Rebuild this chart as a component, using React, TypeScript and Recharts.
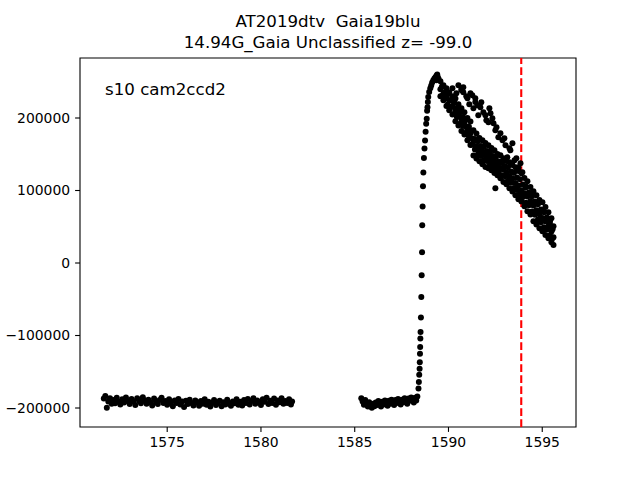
import React from "react";
import {
  ScatterChart,
  Scatter,
  XAxis,
  YAxis,
  ReferenceLine,
  ReferenceArea,
} from "recharts";

// TESS sector 10 light curve, [time, flux]
const orbit1: [number, number][] = [
  [1571.62, -187000], [1571.7, -183500], [1571.78, -199500], [1571.86, -191000],
  [1571.95, -186500], [1572.04, -194000], [1572.13, -189000], [1572.22, -193500],
  [1572.31, -186000], [1572.4, -191500], [1572.5, -195000], [1572.6, -188000],
  [1572.7, -192500], [1572.8, -185500], [1572.9, -190500], [1573.0, -194500],
  [1573.1, -187500], [1573.2, -191000], [1573.3, -196000], [1573.4, -186500],
  [1573.5, -190000], [1573.6, -193500], [1573.7, -185000], [1573.8, -189500],
  [1573.9, -194000], [1574.0, -188500], [1574.1, -192000], [1574.2, -196500],
  [1574.3, -187000], [1574.4, -191500], [1574.5, -194500], [1574.6, -189000],
  [1574.7, -186000], [1574.8, -193000], [1574.9, -190500], [1575.0, -195500],
  [1575.1, -188000], [1575.2, -192500], [1575.3, -197500], [1575.4, -189500],
  [1575.5, -193000], [1575.6, -187500], [1575.7, -195000], [1575.8, -191000],
  [1575.9, -198500], [1576.0, -190000], [1576.1, -194500], [1576.2, -188500],
  [1576.3, -193000], [1576.4, -196500], [1576.5, -189500], [1576.6, -192000],
  [1576.7, -197000], [1576.8, -190500], [1576.9, -194000], [1577.0, -188000],
  [1577.1, -195500], [1577.2, -191500], [1577.3, -198000], [1577.4, -192500],
  [1577.5, -189000], [1577.6, -196000], [1577.7, -193000], [1577.8, -190000],
  [1577.9, -197500], [1578.0, -192000], [1578.1, -195000], [1578.2, -188500],
  [1578.3, -194000], [1578.4, -197000], [1578.5, -191000], [1578.6, -193500],
  [1578.7, -188000], [1578.8, -195500], [1578.9, -191500], [1579.0, -196500],
  [1579.1, -189000], [1579.2, -193000], [1579.3, -187500], [1579.4, -195000],
  [1579.5, -190500], [1579.6, -186500], [1579.7, -194000], [1579.8, -189500],
  [1579.9, -192500], [1580.0, -196000], [1580.1, -188000], [1580.2, -191500],
  [1580.3, -186000], [1580.4, -194500], [1580.5, -190000], [1580.6, -193000],
  [1580.7, -187000], [1580.8, -195500], [1580.9, -189500], [1581.0, -192000],
  [1581.1, -186500], [1581.2, -194000], [1581.3, -190500], [1581.4, -193000],
  [1581.5, -188000], [1581.6, -195000], [1581.66, -191000],
];

const orbit2Quiet: [number, number][] = [
  [1585.35, -186500], [1585.42, -191000], [1585.49, -195500], [1585.56, -189000],
  [1585.63, -193500], [1585.7, -198000], [1585.77, -192000], [1585.84, -196500],
  [1585.91, -199500], [1585.98, -194000], [1586.05, -197500], [1586.12, -192500],
  [1586.19, -196000], [1586.26, -190500], [1586.33, -194500], [1586.4, -198000],
  [1586.47, -191500], [1586.54, -195000], [1586.61, -189500], [1586.68, -193500],
  [1586.75, -197000], [1586.82, -190000], [1586.89, -194000], [1586.96, -188500],
  [1587.03, -192500], [1587.1, -196000], [1587.17, -189000], [1587.24, -193000],
  [1587.31, -187500], [1587.38, -191500], [1587.45, -195000], [1587.52, -188500],
  [1587.59, -192000], [1587.66, -186500], [1587.73, -190500], [1587.8, -194000],
  [1587.87, -187000], [1587.94, -190000], [1588.01, -185500], [1588.08, -189000],
  [1588.15, -192500], [1588.22, -186000], [1588.28, -189500], [1588.34, -184000],
];

const orbit2Rise: [number, number][] = [
  [1588.4, -173000], [1588.42, -164000], [1588.44, -154000], [1588.46, -146000],
  [1588.47, -137000], [1588.48, -125000], [1588.49, -116000], [1588.5, -104000],
  [1588.51, -95000], [1588.53, -75000], [1588.55, -47000], [1588.57, -17000],
  [1588.59, 15000], [1588.6, 52000], [1588.62, 78000], [1588.64, 106000],
  [1588.66, 125000], [1588.69, 145000], [1588.72, 158000], [1588.75, 169000],
  [1588.78, 181000], [1588.81, 192000], [1588.84, 199000], [1588.86, 210000],
  [1588.88, 215000], [1588.9, 222000], [1588.92, 229000], [1588.97, 236000],
  [1589.03, 241000], [1589.08, 245000], [1589.13, 249000], [1589.19, 252000],
  [1589.25, 254500], [1589.31, 256500], [1589.35, 252000], [1589.37, 258500],
  [1589.4, 260000], [1589.42, 257000], [1589.47, 254000],
];

// decline: [time, upper edge, middle, lower edge] of the dense band
const declineBand: [number, number, number, number][] = [
  [1589.57, 250600, 239600, 229900], [1589.73, 245100, 233000, 224400],
  [1589.89, 241000, 228600, 216500], [1590.04, 235400, 224000, 210600],
  [1590.21, 229900, 216100, 204700], [1590.37, 226800, 210600, 195400],
  [1590.53, 218900, 204700, 189600], [1590.69, 213400, 198200, 182000],
  [1590.85, 207900, 192300, 177100], [1591.01, 200000, 184400, 169200],
  [1591.17, 195100, 178900, 162700], [1591.33, 183000, 167500, 148200],
  [1591.49, 178500, 161000, 144000], [1591.65, 172400, 155400, 140300],
  [1591.81, 169200, 153700, 136100], [1591.97, 165500, 148600, 132400],
  [1592.13, 162300, 146800, 130600], [1592.29, 158600, 141700, 127900],
  [1592.45, 155400, 139900, 124100], [1592.61, 150300, 134800, 121000],
  [1592.77, 148600, 131000, 116800], [1592.93, 144400, 128900, 111700],
  [1593.09, 140700, 125100, 108600], [1593.25, 138900, 119600, 103000],
  [1593.41, 135100, 116400, 98500], [1593.57, 132000, 110300, 93400],
  [1593.73, 126900, 106800, 87900], [1593.89, 123700, 100300, 84700],
  [1594.05, 117200, 96100, 78200], [1594.21, 112700, 91600, 71300],
  [1594.37, 104800, 85100, 66800], [1594.53, 98900, 79200, 57500],
  [1594.69, 93400, 72700, 53000], [1594.85, 86900, 67200, 47900],
  [1595.01, 83700, 62000, 43700], [1595.17, 77200, 57500, 38600],
  [1595.33, 69900, 50600, 34100], [1595.49, 61700, 43300, 28600],
  [1595.6, 50600, 35400, 24800],
];

// points lying between the rows above: [time, flux, flux]
const declineFill: [number, number, number][] = [
  [1589.65, 243500, 230500], [1589.81, 235500, 226800], [1589.96, 233000, 218500],
  [1590.12, 225000, 215000], [1590.29, 222000, 205500], [1590.45, 213800, 201500],
  [1590.61, 210000, 192000], [1590.77, 201500, 188800], [1590.93, 197500, 179500],
  [1591.09, 188000, 175000], [1591.25, 182500, 163000], [1591.41, 171000, 156500],
  [1591.57, 168000, 149000], [1591.73, 161500, 147500], [1591.89, 160500, 141500],
  [1592.05, 154500, 140800], [1592.21, 153500, 135500], [1592.37, 147500, 134500],
  [1592.53, 146300, 128800], [1592.69, 140000, 127000], [1592.85, 139300, 121000],
  [1593.01, 133500, 119800], [1593.17, 132200, 113000], [1593.33, 126300, 110600],
  [1593.49, 124500, 103500], [1593.65, 117800, 100800], [1593.81, 115500, 93800],
  [1593.97, 108200, 90900], [1594.13, 105500, 83200], [1594.29, 97400, 79800],
  [1594.45, 93100, 71000], [1594.61, 84900, 66700], [1594.77, 81200, 59100],
  [1594.93, 73800, 56300], [1595.09, 71200, 49300], [1595.25, 62700, 46300],
  [1595.41, 57500, 38000], [1595.55, 46600, 34100],
];

// sparse upper branch of the decline
const declineUpper: [number, number][] = [
  [1590.53, 245100], [1590.69, 240000], [1590.79, 242300], [1590.79, 235400],
  [1591.01, 227200], [1591.17, 234100], [1591.27, 231300], [1591.33, 213400],
  [1591.43, 222000], [1591.54, 217500], [1591.7, 214800], [1591.86, 207900],
  [1591.97, 203700], [1592.13, 194100], [1592.24, 206500], [1592.4, 192700],
  [1592.5, 183000], [1592.66, 173400], [1592.88, 169200], [1593.04, 162300],
  [1593.14, 145800], [1593.3, 155400], [1593.52, 141700], [1593.73, 132000],
  [1593.94, 125100], [1590.21, 241000], [1590.42, 234100], [1590.69, 238200],
  [1590.95, 229900], [1591.11, 218900], [1591.43, 227200], [1591.59, 203700],
  [1591.75, 221700], [1592.02, 196800], [1592.18, 213400], [1592.34, 199600],
  [1592.56, 187200], [1592.77, 178900], [1592.98, 172000], [1593.25, 158200],
  [1593.41, 165100], [1593.62, 144400], [1593.84, 137500],
];

const declineScatter: [number, number][] = [
  [1590.3, 221000], [1590.62, 208000], [1590.95, 188000], [1591.25, 172000],
  [1591.58, 150000], [1591.9, 142000], [1592.2, 152000], [1592.5, 103000],
  [1592.52, 129000], [1592.85, 138000], [1593.18, 113000], [1593.48, 125000],
  [1593.8, 95000], [1594.12, 104000], [1594.45, 92000], [1594.78, 60000],
  [1595.1, 70000], [1595.4, 55000],
];

const xTicks = [1575, 1580, 1585, 1590, 1595];
const yTicks = [-200000, -100000, 0, 100000, 200000];
const xDomain: [number, number] = [1570.35, 1596.8];
const yDomain: [number, number] = [-226200, 282760];
const discoveryTime = 1593.88;

const toPoints = (rows: [number, number][]) => rows.map(([t, f]) => ({ t, f }));
const bandPoints = declineBand.flatMap(([t, a, b, c]) => [
  { t, f: a },
  { t, f: b },
  { t, f: c },
]);
const fillPoints = declineFill.flatMap(([t, a, b]) => [
  { t, f: a },
  { t, f: b },
]);

const series = [
  toPoints(orbit1),
  toPoints(orbit2Quiet),
  toPoints(orbit2Rise),
  bandPoints,
  fillPoints,
  toPoints(declineUpper),
  toPoints(declineScatter),
];

const font = "DejaVu Sans, sans-serif";
const fmt = (v: number) => (v < 0 ? "\u2212" + Math.abs(v) : String(v));
const dot = (p: any) => <circle cx={p.cx} cy={p.cy} r={3} fill="#000" />;

export default function App() {
  return (
    <div style={{ position: "absolute", left: 0, top: 0, width: 640, height: 480, background: "#fff" }}>
      <ScatterChart
        width={640}
        height={480}
        margin={{ top: 58, right: 64, bottom: 0, left: 0 }}
      >
        <XAxis
          type="number"
          dataKey="t"
          domain={xDomain}
          ticks={xTicks}
          interval={0}
          allowDataOverflow
          height={53}
          tickSize={4.9}
          tickMargin={5}
          axisLine={false}
          tickLine={{ stroke: "#000", strokeWidth: 1.1 }}
          tick={{ fill: "#000", fontSize: 13.9, fontFamily: font }}
        />
        <YAxis
          type="number"
          dataKey="f"
          domain={yDomain}
          ticks={yTicks}
          interval={0}
          allowDataOverflow
          width={80}
          tickSize={4.9}
          tickMargin={5}
          axisLine={false}
          tickFormatter={fmt}
          tickLine={{ stroke: "#000", strokeWidth: 1.1 }}
          tick={{ fill: "#000", fontSize: 13.9, fontFamily: font }}
        />
        {series.map((d, i) => (
          <Scatter key={i} data={d} fill="#000" shape={dot} isAnimationActive={false} />
        ))}
        <ReferenceLine
          x={discoveryTime}
          stroke="#ff0000"
          strokeWidth={2.1}
          strokeDasharray="7.7 3.3"
        />
        <ReferenceArea
          x1={xDomain[0]}
          x2={xDomain[1]}
          y1={yDomain[0]}
          y2={yDomain[1]}
          fill="none"
          fillOpacity={0}
          stroke="#000"
          strokeWidth={1.1}
          strokeOpacity={1}
        />
      </ScatterChart>
      <svg
        width={640}
        height={480}
        style={{ position: "absolute", left: 0, top: 0, pointerEvents: "none" }}
      >
        <g fontFamily={font} fontSize={16.67} fill="#000">
          <text x={328} y={26.7} textAnchor="middle" style={{ whiteSpace: "pre" }}>
            AT2019dtv  Gaia19blu
          </text>
          <text x={328} y={48.3} textAnchor="middle">
            14.94G_Gaia Unclassified z= -99.0
          </text>
          <text x={105} y={95}>s10 cam2ccd2</text>
        </g>
      </svg>
    </div>
  );
}
